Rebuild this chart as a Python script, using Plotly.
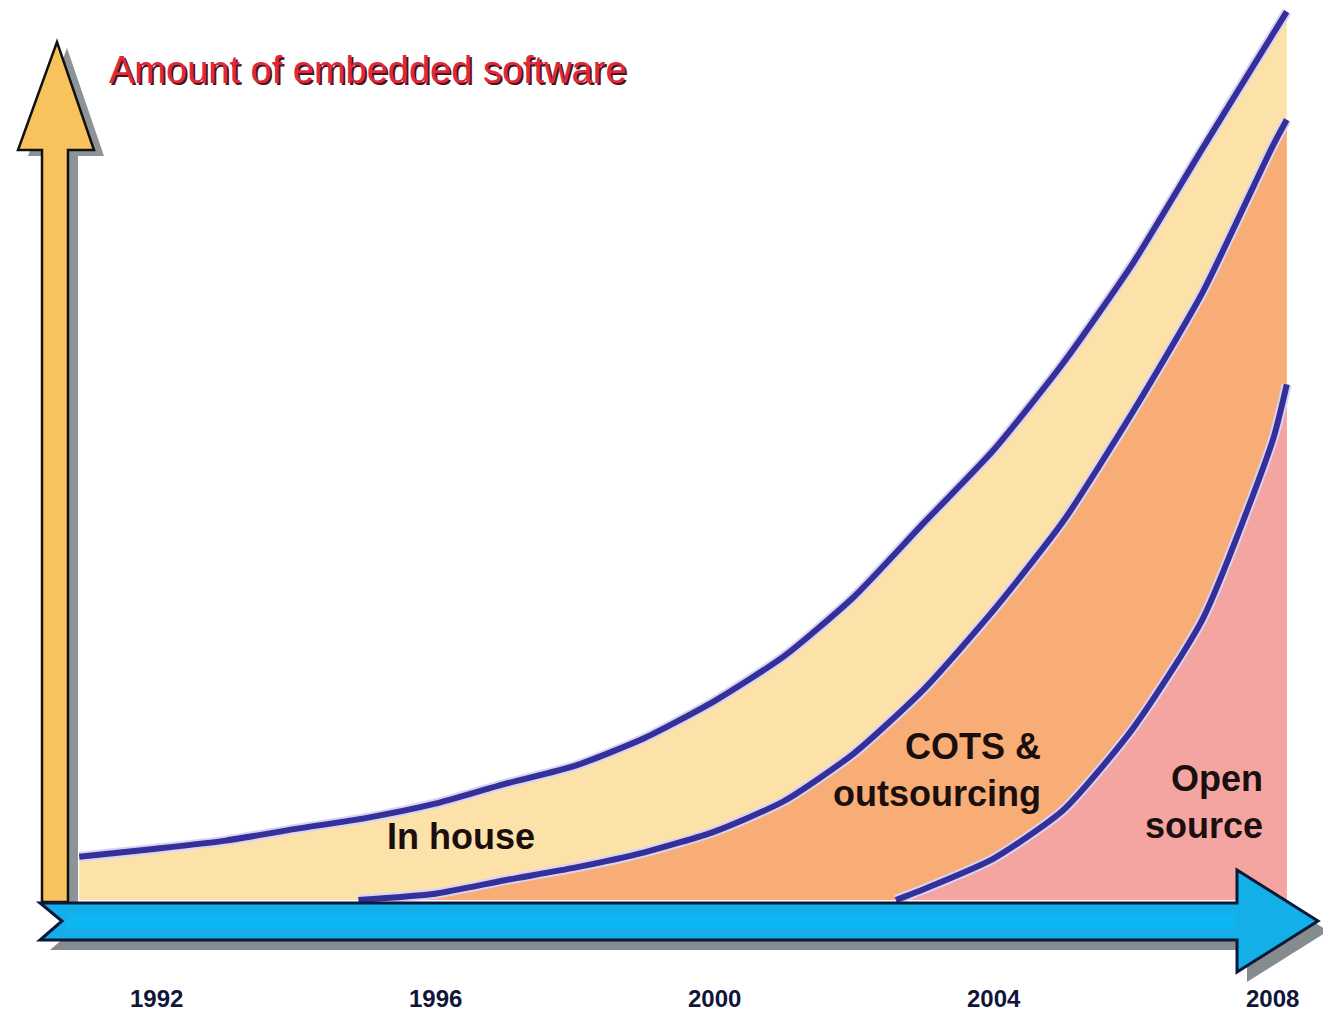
import plotly.graph_objects as go

# ---------------- data ----------------
tick_years = [1992, 1996, 2000, 2004, 2008]

# outer curve: total amount of embedded software (in house band on top)
total_years = [1990.9, 1992, 1993, 1994, 1995, 1996, 1997, 1998, 1999, 2000,
               2001, 2002, 2003, 2004, 2005, 2006, 2007, 2008, 2008.2]
total_amount = [4.8, 5.7, 6.6, 7.9, 9.1, 10.7, 12.9, 14.9, 18.0, 22.1,
                27.1, 33.7, 41.9, 50.0, 59.7, 70.8, 83.6, 96.2, 98.7]

# middle curve: COTS & outsourcing + open source
cots_years = [1994.9, 1996, 1997, 1998, 1999, 2000, 2001, 2002, 2003, 2004,
              2005, 2006, 2007, 2008, 2008.2]
cots_amount = [0.0, 0.7, 2.2, 3.6, 5.3, 7.6, 11.0, 16.3, 23.4, 32.2,
               42.1, 54.3, 67.6, 83.8, 86.7]

# lower curve: open source
open_years = [2002.6, 2003, 2004, 2005, 2006, 2007, 2008, 2008.2]
open_amount = [0.0, 1.2, 4.6, 10.0, 19.1, 31.3, 51.1, 57.3]

region_labels = ["In house", "COTS &<br>outsourcing", "Open<br>source"]
axis_title = "Amount of embedded software"

# ---------------- layout helpers ----------------
W, H = 1323, 1013
PX_PER_YEAR = 69.8
X0_PX = 156  # pixel of 1992
X_MIN = 1992 - X0_PX / PX_PER_YEAR
X_MAX = 1992 + (W - X0_PX) / PX_PER_YEAR
BASE_PX = 900
PX_PER_UNIT = 9.0
Y_MAX = BASE_PX / PX_PER_UNIT
Y_MIN = -(H - BASE_PX) / PX_PER_UNIT


def P(px, py):
    return px / W, 1 - py / H


def path(points):
    s = ""
    for i, (px, py) in enumerate(points):
        x, y = P(px, py)
        s += ("M" if i == 0 else "L") + f"{x:.5f},{y:.5f} "
    return s + "Z"


LINE = "#352f98"
HALO = "#d9d2f7"

fig = go.Figure()

fig.add_trace(go.Scatter(x=total_years, y=total_amount, fill="tozeroy",
                         fillcolor="#fce2a9", mode="lines",
                         line=dict(width=0, color="#fce2a9"), hoverinfo="skip"))
fig.add_trace(go.Scatter(x=cots_years, y=cots_amount, fill="tozeroy",
                         fillcolor="#f8ad76", mode="lines",
                         line=dict(width=0, color="#f8ad76"), hoverinfo="skip"))
fig.add_trace(go.Scatter(x=open_years, y=open_amount, fill="tozeroy",
                         fillcolor="#f4a5a2", mode="lines",
                         line=dict(width=0, color="#f4a5a2"), hoverinfo="skip"))

for xs, ys in [(total_years, total_amount), (cots_years, cots_amount),
               (open_years, open_amount)]:
    fig.add_trace(go.Scatter(x=xs, y=ys, mode="lines",
                             line=dict(width=10, color=HALO, shape="spline", smoothing=0.6),
                             hoverinfo="skip"))
    fig.add_trace(go.Scatter(x=xs, y=ys, mode="lines",
                             line=dict(width=6, color=LINE, shape="spline", smoothing=0.6),
                             hoverinfo="skip"))

shapes = []
# yellow vertical arrow: shadow then body
yellow_pts = [(42, 902), (42, 150), (18, 150), (57, 42), (94, 150), (68, 150), (68, 902)]
shapes.append(dict(type="path", xref="paper", yref="paper",
                   path=path([(x + 10, y + 6) for x, y in yellow_pts]),
                   fillcolor="#8d9397", line=dict(width=0), layer="above"))
shapes.append(dict(type="path", xref="paper", yref="paper", path=path(yellow_pts),
                   fillcolor="#f8c35c", line=dict(color="#111111", width=2.5),
                   layer="above"))

# blue horizontal arrow: shadow then body
blue_pts = [(40, 903), (1237, 903), (1237, 870), (1318, 921), (1237, 972),
            (1237, 940), (40, 940), (62, 921)]
shapes.append(dict(type="path", xref="paper", yref="paper",
                   path=path([(x + 10, y + 10) for x, y in blue_pts]),
                   fillcolor="#848c90", line=dict(width=0), layer="above"))
shapes.append(dict(type="path", xref="paper", yref="paper", path=path(blue_pts),
                   fillcolor="#14aee8", line=dict(color="#0b1838", width=3),
                   layer="above"))
# lighter band in the shaft
x0, y0 = P(66, 914)
x1, y1 = P(1235, 928)
shapes.append(dict(type="rect", xref="paper", yref="paper", x0=x0, x1=x1, y0=y0, y1=y1,
                   fillcolor="#0cb6f2", line=dict(width=0), layer="above"))

annotations = []
# axis title with dark shadow
tx, ty = P(109, 72)
tx2, ty2 = P(107, 70)
annotations.append(dict(text=axis_title, x=tx, y=ty, xref="paper", yref="paper",
                        xanchor="left", yanchor="middle", showarrow=False,
                        font=dict(family="Liberation Sans, Arial, sans-serif", size=38,
                                  color="#4a1418")))
annotations.append(dict(text=axis_title, x=tx2, y=ty2, xref="paper", yref="paper",
                        xanchor="left", yanchor="middle", showarrow=False,
                        font=dict(family="Liberation Sans, Arial, sans-serif", size=38,
                                  color="#e0283a")))

label_font = dict(family="Liberation Sans Narrow, Arial Narrow, Liberation Sans, sans-serif",
                  size=36, color="#1a0f0f")
lx, ly = P(461, 836)
annotations.append(dict(text="<b>" + region_labels[0] + "</b>", x=lx, y=ly,
                        xref="paper", yref="paper", xanchor="center", yanchor="middle",
                        showarrow=False, font=label_font))
lx, ly = P(1043, 770)
annotations.append(dict(text="<b>" + region_labels[1] + "</b>", x=lx, y=ly,
                        xref="paper", yref="paper", xanchor="right", yanchor="middle",
                        align="right", showarrow=False, font=label_font))
lx, ly = P(1265, 802)
annotations.append(dict(text="<b>" + region_labels[2] + "</b>", x=lx, y=ly,
                        xref="paper", yref="paper", xanchor="right", yanchor="middle",
                        align="right", showarrow=False, font=label_font))

_, tick_y = P(0, 998)
for yr in tick_years:
    annotations.append(dict(text="<b>" + str(yr) + "</b>", x=yr, y=tick_y,
                            xref="x", yref="paper", xanchor="center", yanchor="middle",
                            showarrow=False,
                            font=dict(family="Liberation Sans Narrow, Arial Narrow, Liberation Sans, sans-serif",
                                      size=24, color="#10163a")))

fig.update_layout(
    width=W, height=H,
    margin=dict(l=0, r=0, t=0, b=0),
    paper_bgcolor="white", plot_bgcolor="white",
    showlegend=False,
    xaxis=dict(range=[X_MIN, X_MAX], visible=False, fixedrange=True),
    yaxis=dict(range=[Y_MIN, Y_MAX], visible=False, fixedrange=True),
    shapes=shapes, annotations=annotations,
)

fig.write_html("out.html")
